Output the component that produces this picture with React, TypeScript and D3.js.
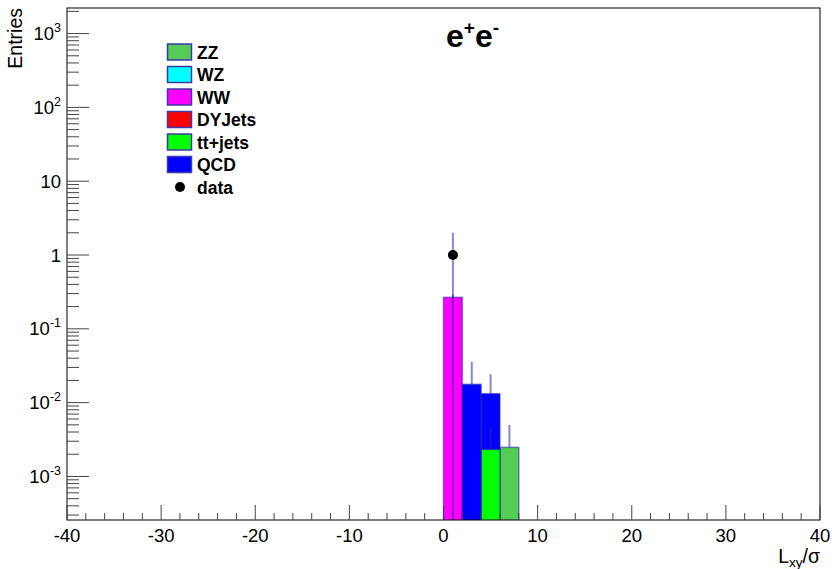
import React from "react";
import * as d3 from "d3";

// Bin layout of the L_xy/sigma histograms (2-unit bins)
const binLows = [0, 2, 4, 6];
const binWidth = 2;

// Samples in stacking order (bottom to top) and their colours
const sampleNames = ["ZZ", "WZ", "WW", "DYJets", "tt+jets", "QCD"];
const sampleColors = ["#55cc55", "#00ffff", "#ff00ff", "#ff0000", "#00ff00", "#0000ff"];

// Bin contents per sample (aligned with binLows)
const zzValues = [0, 0, 0, 0.00248];
const wzValues = [0, 0, 0, 0];
const wwValues = [0.267, 0, 0, 0];
const dyValues = [0, 0, 0, 0];
const ttValues = [0, 0, 0.00233, 0];
const qcdValues = [0, 0.0177, 0.0109, 0];

// Statistical uncertainties per sample
const zzErrors = [0, 0, 0, 0.0025];
const wzErrors = [0, 0, 0, 0];
const wwErrors = [0.025, 0, 0, 0];
const dyErrors = [0, 0, 0, 0];
const ttErrors = [0, 0, 0.0023, 0];
const qcdErrors = [0, 0.0181, 0.011, 0];

// Observed data
const dataX = [1];
const dataY = [1];
const dataErr = [1];

// Axis ticks
const xMajorTicks = [-40, -30, -20, -10, 0, 10, 20, 30, 40];
const yDecades = [-3, -2, -1, 0, 1, 2, 3];

const W = 832;
const H = 569;
const left = 67;
const right = 820;
const top = 8;
const bottom = 520;

const x = d3.scaleLinear().domain([-40, 40]).range([left, right]);
const y = d3.scaleLog().domain([2.57e-4, 2220]).range([bottom, top]);

const lineCol = "rgba(40,40,160,0.55)";
const font = "'Liberation Sans', Arial, sans-serif";

export default function App() {
  const values = [zzValues, wzValues, wwValues, dyValues, ttValues, qcdValues];
  const errors = [zzErrors, wzErrors, wwErrors, dyErrors, ttErrors, qcdErrors];

  // cumulative stack
  const bars: { x0: number; x1: number; y0: number; y1: number; color: string; err: number }[] = [];
  const cum = binLows.map(() => 0);
  values.forEach((vals, s) => {
    vals.forEach((v, b) => {
      if (v > 0) {
        const base = cum[b];
        cum[b] += v;
        bars.push({
          x0: binLows[b],
          x1: binLows[b] + binWidth,
          y0: base,
          y1: cum[b],
          color: sampleColors[s],
          err: errors[s][b],
        });
      }
    });
  });

  const xMinor = d3.range(-38, 40, 2).filter((v) => v % 10 !== 0);
  const yMinor: number[] = [];
  for (let k = -4; k <= 3; k++) {
    for (let m = 2; m <= 9; m++) {
      const v = m * Math.pow(10, k);
      if (v > y.domain()[0] && v < y.domain()[1]) yMinor.push(v);
    }
  }

  const yPix = (v: number) => (v <= 0 ? bottom + 50 : y(v));

  const legendRows = [0, 1, 2, 3, 4, 5];

  return (
    <svg width={W} height={H} style={{ position: "absolute", left: 0, top: 0, background: "#fff" }} fontFamily={font}>
      <defs>
        <clipPath id="plotArea">
          <rect x={left} y={top} width={right - left} height={bottom - top} />
        </clipPath>
      </defs>
      <rect x={0} y={0} width={W} height={H} fill="#fff" />

      <g clipPath="url(#plotArea)">
        {bars.map((b, i) => (
          <rect
            key={"bar" + i}
            x={x(b.x0)}
            y={yPix(b.y1)}
            width={x(b.x1) - x(b.x0)}
            height={yPix(b.y0) - yPix(b.y1)}
            fill={b.color}
            stroke={lineCol}
            strokeWidth={1.5}
          />
        ))}
        {bars.map((b, i) =>
          b.err > 0 ? (
            <line
              key={"err" + i}
              x1={x((b.x0 + b.x1) / 2)}
              x2={x((b.x0 + b.x1) / 2)}
              y1={yPix(b.y1)}
              y2={yPix(b.y1 + b.err)}
              stroke={lineCol}
              strokeWidth={2}
            />
          ) : null
        )}
        {dataX.map((dx, i) => (
          <g key={"d" + i}>
            <line
              x1={x(dx)}
              x2={x(dx)}
              y1={yPix(dataY[i] - dataErr[i])}
              y2={yPix(dataY[i] + dataErr[i])}
              stroke={lineCol}
              strokeWidth={2}
            />
            <circle cx={x(dx)} cy={y(dataY[i])} r={5} fill="#000" />
          </g>
        ))}
      </g>

      {/* frame */}
      <rect x={left} y={top} width={right - left} height={bottom - top} fill="none" stroke="#000" strokeWidth={1} />

      {/* x axis ticks */}
      {xMajorTicks.map((t) => (
        <line key={"xM" + t} x1={x(t)} x2={x(t)} y1={bottom} y2={bottom - 15} stroke="#444" strokeWidth={1} />
      ))}
      {xMinor.map((t) => (
        <line key={"xm" + t} x1={x(t)} x2={x(t)} y1={bottom} y2={bottom - 7} stroke="#444" strokeWidth={1} />
      ))}
      {xMajorTicks.map((t) => (
        <text key={"xl" + t} x={x(t)} y={542} fontSize={18.5} textAnchor="middle" fill="#000">
          {t}
        </text>
      ))}

      {/* y axis ticks */}
      {yDecades.map((k) => (
        <line key={"yM" + k} x1={left} x2={left + 22} y1={y(Math.pow(10, k))} y2={y(Math.pow(10, k))} stroke="#444" strokeWidth={1} />
      ))}
      {yMinor.map((v, i) => (
        <line key={"ym" + i} x1={left} x2={left + 12} y1={y(v)} y2={y(v)} stroke="#444" strokeWidth={1} />
      ))}
      {yDecades.map((k) => {
        const yy = y(Math.pow(10, k)) + 6.5;
        if (k === 0 || k === 1) {
          return (
            <text key={"yl" + k} x={61} y={yy} fontSize={18.5} textAnchor="end" fill="#000">
              {k === 0 ? "1" : "10"}
            </text>
          );
        }
        return (
          <text key={"yl" + k} x={61} y={yy} fontSize={18.5} textAnchor="end" fill="#000">
            10
            <tspan fontSize={12.5} dy={-8}>
              {String(k)}
            </tspan>
          </text>
        );
      })}

      {/* axis titles */}
      <text transform={`translate(22,${top}) rotate(-90)`} fontSize={19.5} textAnchor="end" fill="#000">
        Entries
      </text>
      <text x={right} y={563} fontSize={19.5} textAnchor="end" fill="#000">
        L
        <tspan fontSize={13.5} dy={4}>
          xy
        </tspan>
        <tspan dy={-4}>/σ</tspan>
      </text>

      {/* title */}
      <text x={446} y={47} fontSize={32} fontWeight="bold" fill="#000">
        e
        <tspan fontSize={19} dy={-13}>
          +
        </tspan>
        <tspan dy={13}>e</tspan>
        <tspan fontSize={19} dy={-13}>
          -
        </tspan>
      </text>

      {/* legend */}
      {legendRows.map((i) => {
        const cy = 52 + i * 22.5;
        return (
          <g key={"lg" + i}>
            <rect x={167.5} y={cy - 8} width={24} height={16} fill={sampleColors[i]} stroke="#3a3aa8" strokeWidth={1.5} />
            <text x={197} y={cy + 6.5} fontSize={17.5} fontWeight="bold" fill="#000">
              {sampleNames[i]}
            </text>
          </g>
        );
      })}
      <circle cx={180} cy={52 + 6 * 22.5} r={5} fill="#000" />
      <text x={197} y={52 + 6 * 22.5 + 6.5} fontSize={17.5} fontWeight="bold" fill="#000">
        data
      </text>
    </svg>
  );
}
